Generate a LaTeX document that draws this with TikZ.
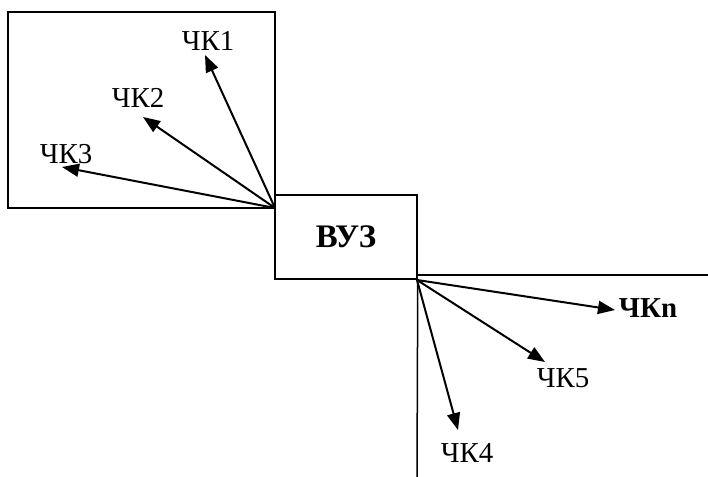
\documentclass[tikz,border=0pt]{standalone}
\usepackage{fontspec}
\setmainfont{Liberation Serif}
\usetikzlibrary{arrows.meta}
\tikzstyle{lbl}=[inner sep=0pt, font=\fontsize{29}{33}\selectfont]
\tikzstyle{blbl}=[inner sep=0pt, font=\fontsize{29}{33}\selectfont\bfseries]
\tikzstyle{arr}=[line width=2bp, -{Triangle[length=17bp,width=13bp]}]
\begin{document}
\begin{tikzpicture}[x=1bp, y=-1bp, line width=1.5bp]
    \useasboundingbox (0,0) rectangle (708,477);
    % frames
    \draw (8,12) rectangle (275,208);
    \node[draw, minimum width=142bp, minimum height=84bp, blbl,
      font=\fontsize{33}{37}\selectfont\bfseries] (vuz) at (346,237) {ВУЗ};
    \draw (417,275) -- (708,275);
    \draw (vuz.south east) -- (417,477);
    \coordinate (o1) at (275,208);
    \coordinate (o2) at (417,280);
    % labels
    \node[lbl] (k1) at (208,41) {ЧК1};
    \node[lbl] (k2) at (138,98) {ЧК2};
    \node[lbl] (k3) at (66,154) {ЧК3};
    \node[lbl] (k4) at (467,453) {ЧК4};
    \node[lbl] (k5) at (563,378) {ЧК5};
    \node[blbl] (kn) at (648,308) {ЧКn};
    % arrow tips
    \coordinate (t1) at (205,55);
    \coordinate (t2) at (143,117);
    \coordinate (t3) at (62,167);
    \coordinate (t4) at (458,430);
    \coordinate (t5) at (545,362);
    \coordinate (tn) at (615,310);
    \foreach \from/\to in
      {o1/t1, o1/t2, o1/t3, o2/t4, o2/t5, o2/tn}
    \draw[arr] (\from) -- (\to);
\end{tikzpicture}
\end{document}
